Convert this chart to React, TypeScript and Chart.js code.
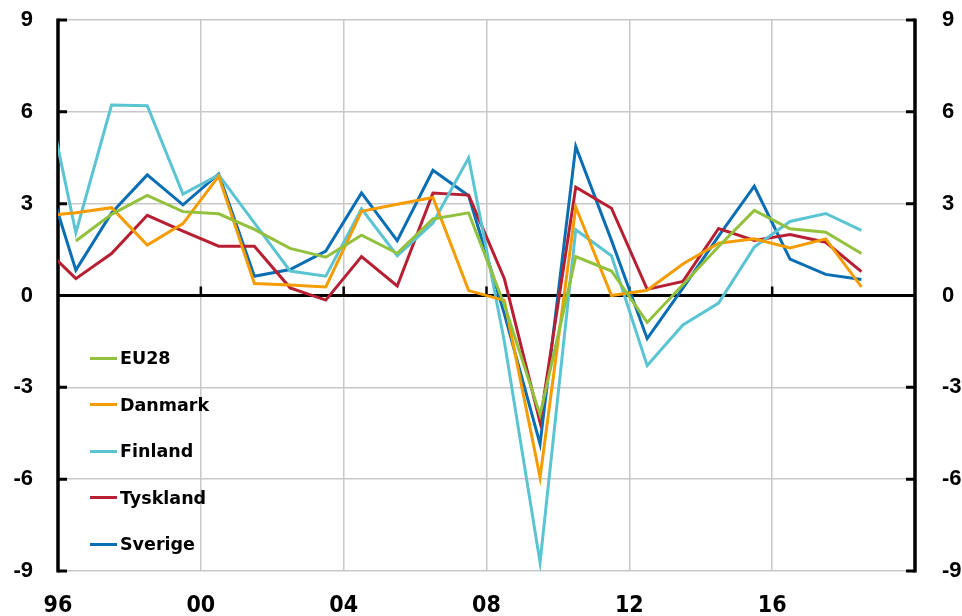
import React, { useEffect, useRef } from 'react';
import { Chart, registerables } from 'chart.js';

Chart.register(...registerables);

// Annual observations, plotted at mid-year
const years = [1995, 1996, 1997, 1998, 1999, 2000, 2001, 2002, 2003, 2004, 2005, 2006, 2007, 2008, 2009, 2010, 2011, 2012, 2013, 2014, 2015, 2016, 2017, 2018];
const eu28 = [null, 1.78, 2.65, 3.27, 2.74, 2.67, 2.16, 1.54, 1.25, 1.97, 1.38, 2.5, 2.7, -0.3, -3.9, 1.27, 0.8, -0.88, 0.35, 1.6, 2.78, 2.18, 2.07, 1.37];
const danmark = [2.6, 2.7, 2.87, 1.65, 2.35, 3.9, 0.39, 0.34, 0.28, 2.75, 2.98, 3.2, 0.16, -0.16, -5.94, 2.89, 0.0, 0.17, 1.03, 1.71, 1.85, 1.55, 1.85, 0.28];
const finland = [7.61, 2.05, 6.22, 6.2, 3.31, 3.94, 2.37, 0.8, 0.63, 2.83, 1.3, 2.37, 4.5, -1.5, -8.72, 2.15, 1.3, -2.29, -0.96, -0.25, 1.58, 2.42, 2.68, 2.13];
const tyskland = [1.69, 0.55, 1.37, 2.62, 2.1, 1.61, 1.61, 0.25, -0.15, 1.27, 0.31, 3.35, 3.28, 0.55, -4.14, 3.54, 2.85, 0.2, 0.46, 2.19, 1.8, 1.99, 1.74, 0.78];
const sverige = [4.57, 0.83, 2.7, 3.94, 2.96, 3.97, 0.63, 0.85, 1.45, 3.35, 1.79, 4.09, 3.26, -0.6, -4.85, 4.87, 1.8, -1.41, 0.24, 1.94, 3.57, 1.19, 0.69, 0.52];

const seriesNames = ['EU28', 'Danmark', 'Finland', 'Tyskland', 'Sverige'];
const seriesValues = [eu28, danmark, finland, tyskland, sverige];
const seriesColors = ['#93C13E', '#F59C00', '#5BC4D3', '#B71F33', '#0A6EB4'];

const yMin = -9;
const yMax = 9;
const yStep = 3;
const xMin = 1996;
const xMax = 2020;
const xStep = 4;

const axesPlugin = {
  id: 'customAxes',
  beforeDatasetsDraw(chart: any) {
    const { ctx, chartArea } = chart;
    const ys = chart.scales.y;
    const xs = chart.scales.x;
    const { left, right, top, bottom } = chartArea;
    const y0 = ys.getPixelForValue(0);
    ctx.save();
    ctx.strokeStyle = '#000';
    ctx.lineCap = 'butt';
    // zero line
    ctx.lineWidth = 3;
    ctx.beginPath();
    ctx.moveTo(left, y0);
    ctx.lineTo(right, y0);
    ctx.stroke();
    // y tick marks (inward)
    ctx.lineWidth = 3;
    for (let v = yMin; v <= yMax; v += yStep) {
      const py = ys.getPixelForValue(v);
      ctx.beginPath();
      ctx.moveTo(left, py);
      ctx.lineTo(left + 9, py);
      ctx.moveTo(right, py);
      ctx.lineTo(right - 9, py);
      ctx.stroke();
    }
    // x tick marks on zero line
    ctx.lineWidth = 2.5;
    for (let v = xMin + xStep; v < xMax; v += xStep) {
      const px = xs.getPixelForValue(v);
      ctx.beginPath();
      ctx.moveTo(px, y0);
      ctx.lineTo(px, y0 - 9);
      ctx.stroke();
    }
    // vertical axes
    ctx.lineWidth = 3.5;
    ctx.beginPath();
    ctx.moveTo(left, top - 1.5);
    ctx.lineTo(left, bottom + 1.5);
    ctx.moveTo(right, top - 1.5);
    ctx.lineTo(right, bottom + 1.5);
    ctx.stroke();
    ctx.restore();
  },
};

export default function App() {
  const canvasRef = useRef<HTMLCanvasElement | null>(null);

  useEffect(() => {
    if (!canvasRef.current) return;
    const datasets = seriesNames.map((name, i) => ({
      label: name,
      data: years
        .map((yr, j) => ({ x: yr + 0.5, y: seriesValues[i][j] }))
        .filter((p) => p.y !== null),
      borderColor: seriesColors[i],
      backgroundColor: seriesColors[i],
      borderWidth: 3,
      pointRadius: 0,
      tension: 0,
      fill: false,
    }));

    const yFont = { family: '"Liberation Sans", Arial, sans-serif', size: 22, weight: 'bold' as const };
    const fitY = (w: number) => (s: any) => {
      s.width = w;
      s.paddingTop = 0;
      s.paddingBottom = 0;
    };
    const chart = new Chart(canvasRef.current, {
      type: 'line',
      data: { datasets: datasets as any },
      plugins: [axesPlugin],
      options: {
        animation: false,
        responsive: true,
        maintainAspectRatio: false,
        layout: { padding: { top: 20, left: 0, right: 0, bottom: 0 } },
        plugins: { legend: { display: false }, tooltip: { enabled: false } },
        scales: {
          x: {
            type: 'linear',
            min: xMin,
            max: xMax,
            position: 'bottom',
            border: { display: false },
            grid: { color: '#C8C8C8', lineWidth: 1.5, drawTicks: false },
            ticks: {
              stepSize: xStep,
              autoSkip: false,
              maxRotation: 0,
              padding: 21,
              color: '#000',
              font: { family: '"Liberation Sans Narrow", "DejaVu Sans Condensed", "Liberation Sans", sans-serif', size: 23, weight: 'bold' },
              callback: (v: any) => (Number(v) >= xMax ? '' : String(Number(v) % 100).padStart(2, '0')),
            },
            afterFit: (s: any) => {
              s.height = 45;
              s.paddingLeft = 0;
              s.paddingRight = 0;
            },
          },
          y: {
            position: 'left',
            min: yMin,
            max: yMax,
            border: { display: false },
            grid: { color: '#C8C8C8', lineWidth: 1.5, drawTicks: false },
            ticks: { stepSize: yStep, padding: 25, color: '#000', font: yFont },
            afterFit: fitY(58),
          },
          y2: {
            position: 'right',
            min: yMin,
            max: yMax,
            border: { display: false },
            grid: { display: false, drawTicks: false },
            ticks: { stepSize: yStep, padding: 27, color: '#000', font: yFont },
            afterFit: fitY(47),
          },
        },
      },
    });
    return () => chart.destroy();
  }, []);

  const legendY = [358, 404.5, 451, 497.5, 544];

  return (
    <div style={{ position: 'fixed', left: 0, top: 0, width: 962, height: 616, background: '#fff' }}>
      <canvas ref={canvasRef} />
      {seriesNames.map((name, i) => (
        <div
          key={name}
          style={{
            position: 'absolute',
            left: 90,
            top: legendY[i] - 12,
            height: 24,
            display: 'flex',
            alignItems: 'center',
            fontFamily: '"DejaVu Sans", sans-serif',
            fontWeight: 'bold',
            fontSize: 17.5,
            color: '#000',
            whiteSpace: 'nowrap',
          }}
        >
          <span style={{ display: 'inline-block', width: 27, height: 3, background: seriesColors[i], marginRight: 3 }} />
          <span>{name}</span>
        </div>
      ))}
    </div>
  );
}
